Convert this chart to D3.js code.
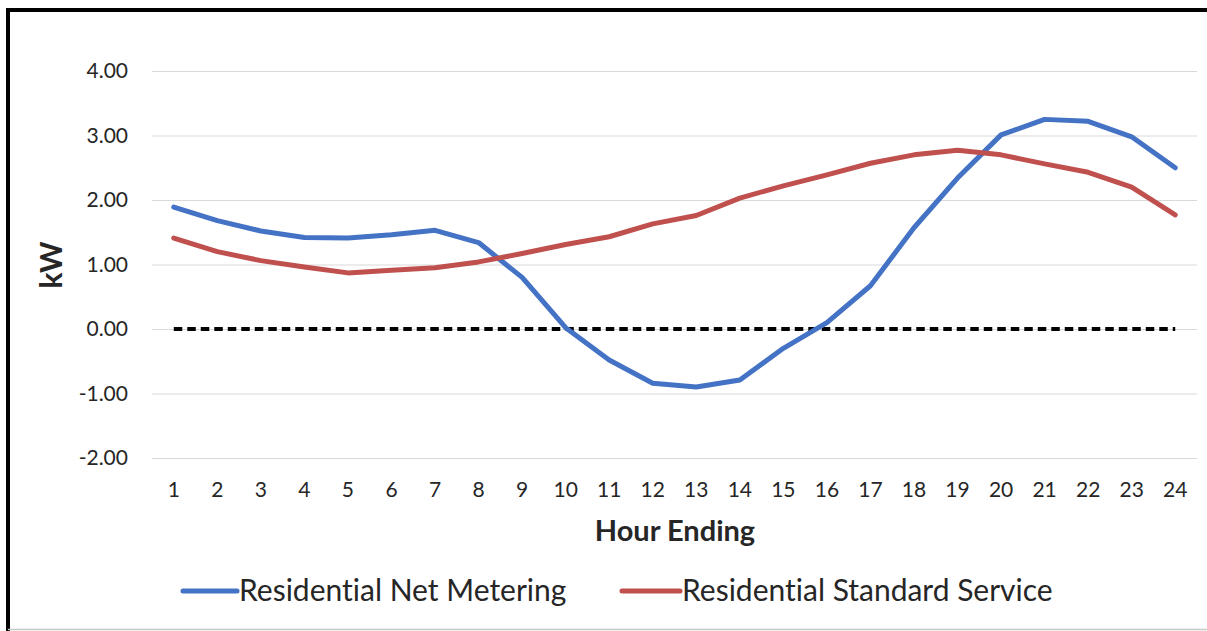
<!DOCTYPE html>
<html>
<head>
<meta charset="utf-8">
<script src="https://cdn.jsdelivr.net/npm/d3@7"></script>
<style>
  html, body { margin: 0; padding: 0; background: #ffffff; }
  svg { display: block; }
  text { font-family: Lato, "Open Sans", sans-serif; fill: #262626; font-variant-ligatures: none; font-feature-settings: "liga" 0, "dlig" 0; }
</style>
</head>
<body>
<svg id="chart" width="1207" height="631"></svg>
<script>
// Hourly load profile (kW) by hour ending
const hours = [1, 2, 3, 4, 5, 6, 7, 8, 9, 10, 11, 12, 13, 14, 15, 16, 17, 18, 19, 20, 21, 22, 23, 24];
const netMetering = [1.89, 1.68, 1.52, 1.42, 1.41, 1.46, 1.53, 1.34, 0.80, 0.02, -0.48, -0.84, -0.90, -0.79, -0.30, 0.10, 0.67, 1.57, 2.34, 3.01, 3.25, 3.22, 2.98, 2.50];
const standardService = [1.41, 1.20, 1.06, 0.96, 0.87, 0.91, 0.95, 1.04, 1.17, 1.31, 1.43, 1.63, 1.76, 2.03, 2.22, 2.39, 2.57, 2.70, 2.77, 2.70, 2.56, 2.43, 2.20, 1.77];
const zeroLine = hours.map(() => 0);
const yTicks = [-2, -1, 0, 1, 2, 3, 4];
const seriesNames = ["Residential Net Metering", "Residential Standard Service"];
const seriesColors = ["#4472C4", "#C0504D"];

const svg = d3.select("#chart");

// outer frame (left and top edges visible)
svg.append("rect").attr("x", 0).attr("y", 0).attr("width", 1207).attr("height", 631).attr("fill", "#ffffff");
svg.append("line").attr("x1", 8).attr("x2", 1207).attr("y1", 10).attr("y2", 10)
  .attr("stroke", "#000").attr("stroke-width", 4);
svg.append("line").attr("x1", 8).attr("x2", 8).attr("y1", 8).attr("y2", 631)
  .attr("stroke", "#000").attr("stroke-width", 4);
svg.append("line").attr("x1", 8).attr("x2", 1207).attr("y1", 629.5).attr("y2", 629.5)
  .attr("stroke", "#c8c8c8").attr("stroke-width", 1.5);

const plot = { left: 152, right: 1197, top: 71, bottom: 458 };

const x = d3.scaleBand().domain(hours).range([plot.left, plot.right]);
const y = d3.scaleLinear().domain([-2, 4]).range([plot.bottom, plot.top]);
const cx = h => x(h) + x.bandwidth() / 2;

// number format with a plain hyphen for negatives
const fmt = d3.formatLocale({ decimal: ".", thousands: ",", grouping: [3], currency: ["$", ""], minus: "-" }).format(".2f");

// horizontal gridlines
const yAxis = d3.axisLeft(y).tickValues(yTicks)
  .tickSize(-(plot.right - plot.left)).tickPadding(24)
  .tickFormat(fmt);
const gy = svg.append("g").attr("transform", `translate(${plot.left},0)`).call(yAxis);
gy.select(".domain").remove();
gy.selectAll(".tick line").attr("stroke", "#d9d9d9").attr("stroke-width", 1);
gy.selectAll(".tick text").attr("font-size", 21).attr("fill", "#262626");

// category axis labels
const xAxis = d3.axisBottom(x).tickSize(0).tickPadding(0);
const gx = svg.append("g").attr("transform", `translate(0,${plot.bottom + 24})`).call(xAxis);
gx.select(".domain").remove();
gx.selectAll(".tick text").attr("font-size", 21).attr("fill", "#262626").attr("dy", "0.71em");

// zero reference line
const line = d3.line().x((d, i) => cx(hours[i])).y(d => y(d));
svg.append("path").datum(zeroLine).attr("d", line)
  .attr("fill", "none").attr("stroke", "#000").attr("stroke-width", 4)
  .attr("stroke-dasharray", "8.5 5").attr("stroke-linecap", "butt");

// series lines
[netMetering, standardService].forEach((vals, i) => {
  svg.append("path").datum(vals).attr("d", line)
    .attr("fill", "none").attr("stroke", seriesColors[i]).attr("stroke-width", 5)
    .attr("stroke-linejoin", "round").attr("stroke-linecap", "round");
});

// axis titles
svg.append("text").attr("x", 675).attr("y", 541).attr("text-anchor", "middle")
  .attr("font-size", 29).attr("font-weight", "bold").text("Hour Ending");
svg.append("text").attr("transform", "translate(62,265) rotate(-90)").attr("text-anchor", "middle")
  .attr("font-size", 30).attr("font-weight", "bold").text("kW");

// legend
const legendItems = [
  { x0: 183, x1: 237, tx: 239 },
  { x0: 622, x1: 680, tx: 682 }
];
legendItems.forEach((it, i) => {
  svg.append("line").attr("x1", it.x0).attr("x2", it.x1).attr("y1", 591).attr("y2", 591)
    .attr("stroke", seriesColors[i]).attr("stroke-width", 5).attr("stroke-linecap", "round");
  svg.append("text").attr("x", it.tx).attr("y", 601).attr("font-size", 30).text(seriesNames[i]);
});
</script>
</body>
</html>
